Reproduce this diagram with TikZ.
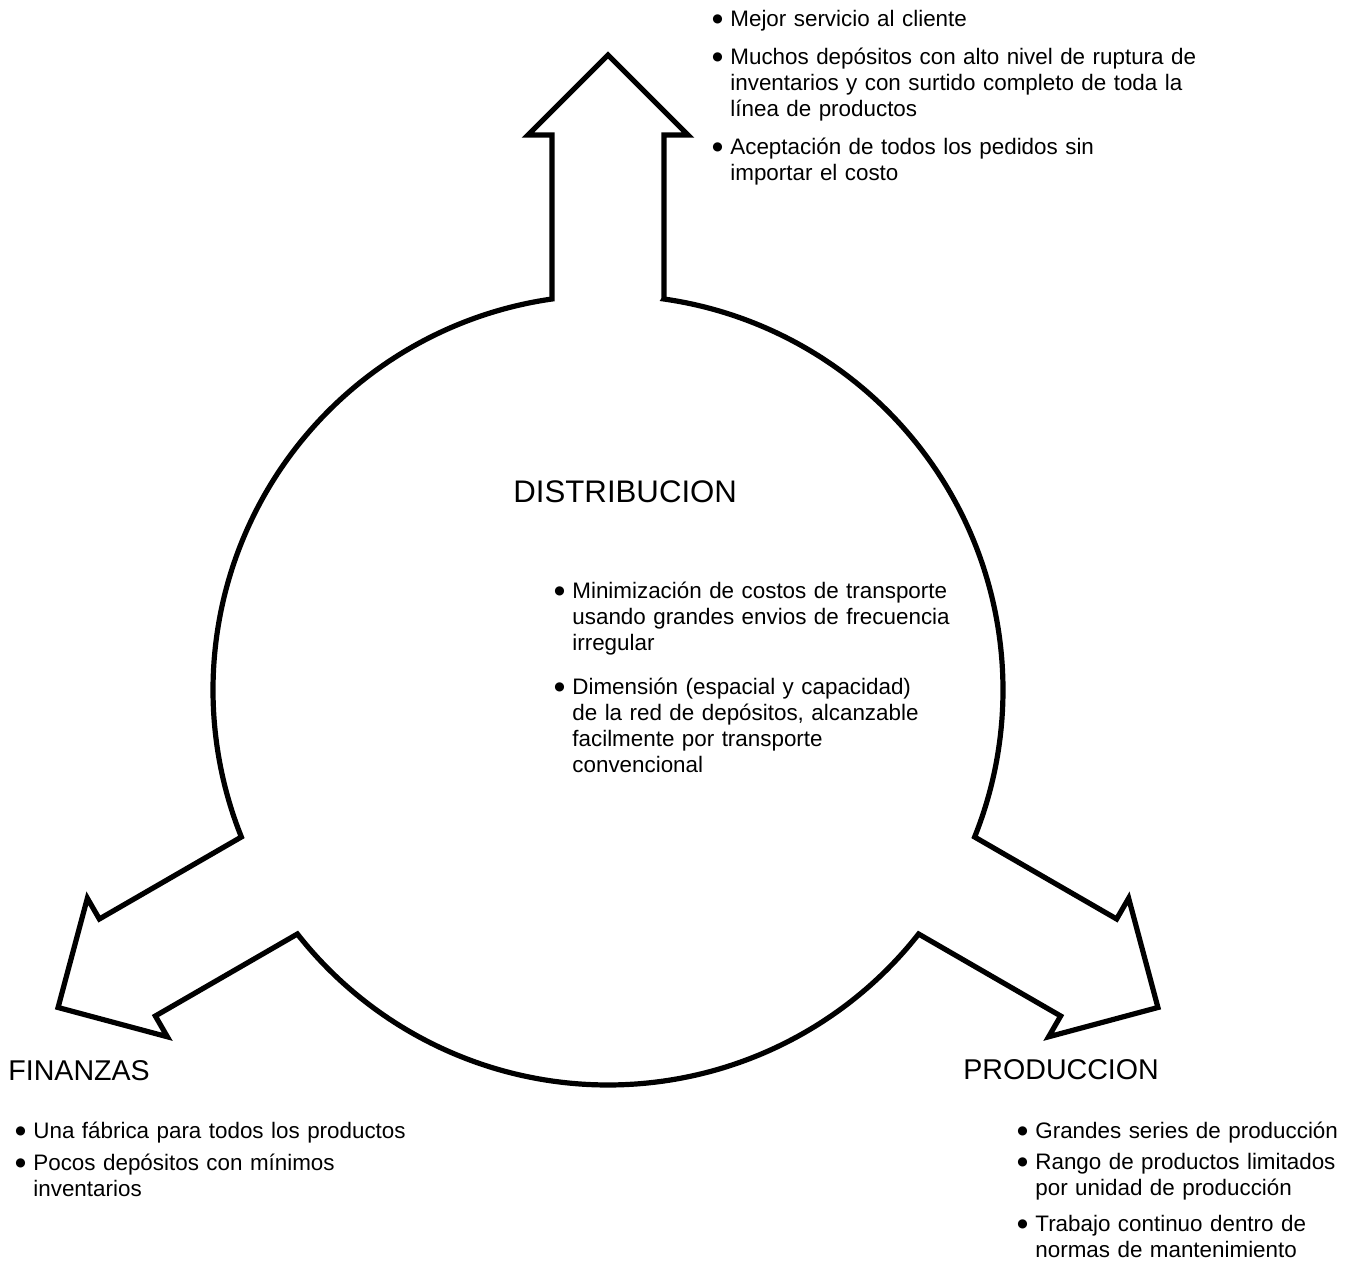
\documentclass[tikz,border=0pt]{standalone}
\usepackage{fontspec}
\setmainfont{Liberation Sans}
\newfontfamily\dotfont{DejaVu Sans}
\usetikzlibrary{calc}

\tikzset{
  outline/.style={line width=2.6pt, line join=miter},
  heading/.style={anchor=base west, inner sep=0pt, font=\fontsize{14.3}{18}\selectfont},
  bullets/.style={anchor=base west, inner sep=0pt, text width=300pt, align=left,
    font=\fontsize{11.2}{13}\selectfont},
}
\newcommand\bul[1]{\leftskip=9pt\hspace*{-9pt}\makebox[9pt][l]{\raisebox{2.1pt}{\dotfont\fontsize{6}{6}\selectfont ●}}#1\par}
\newcommand\itemgap[1]{\vspace{#1}}
% one arm of the outline, pointing at angle #1 from the centre
\newcommand\arm[1]{%
  -- ($(C)+(#1:555)+(#1-90:56)$) -- ($(C)+(#1:555)+(#1-90:80)$)
  -- ($(C)+(#1:635)$)
  -- ($(C)+(#1:555)+(#1+90:80)$) -- ($(C)+(#1:555)+(#1+90:56)$)
  -- ($(C)+(#1:391)+(#1+90:56)$)}

\begin{document}
\begin{tikzpicture}[x=0.5pt, y=0.5pt]
\useasboundingbox (0,0) rectangle (1351,1286);
\coordinate (C) at (608,596);

\draw[outline] ($(C)+(90:391)+(0:56)$) \arm{90}
  arc[start angle=98.15, end angle=201.85, radius=395] \arm{210}
  arc[start angle=218.15, end angle=321.85, radius=395] \arm{330}
  arc[start angle=338.15, end angle=441.85, radius=395] -- cycle;

\node[bullets] (mktlist) at (712,1259) {%
  \bul{Mejor servicio al cliente}\itemgap{6pt}
  \bul{Muchos depósitos con alto nivel de ruptura de\\ inventarios y con surtido completo de toda la\\ línea de productos}\itemgap{6pt}
  \bul{Aceptación de todos los pedidos sin\\ importar el costo}};

\node[heading, font=\fontsize{15.6}{18}\selectfont] (distr) at (513,783) {DISTRIBUCION};
\node[bullets] (distrlist) at (554,687) {%
  \bul{Minimización de costos de transporte\\ usando grandes envios de frecuencia\\ irregular}\itemgap{9pt}
  \bul{Dimensión (espacial y capacidad)\\ de la red de depósitos, alcanzable\\ facilmente por transporte\\ convencional}};

\node[heading] (fin) at (8,205) {FINANZAS};
\node[bullets] (finlist) at (15,147) {%
  \bul{Una fábrica para todos los productos}\itemgap{3pt}
  \bul{Pocos depósitos con mínimos\\ inventarios}};

\node[heading] (prod) at (963,206) {PRODUCCION};
\node[bullets] (prodlist) at (1017,147) {%
  \bul{Grandes series de producción}\itemgap{2.5pt}
  \bul{Rango de productos limitados\\ por unidad de producción}\itemgap{5pt}
  \bul{Trabajo continuo dentro de\\ normas de mantenimiento}};
\end{tikzpicture}
\end{document}
